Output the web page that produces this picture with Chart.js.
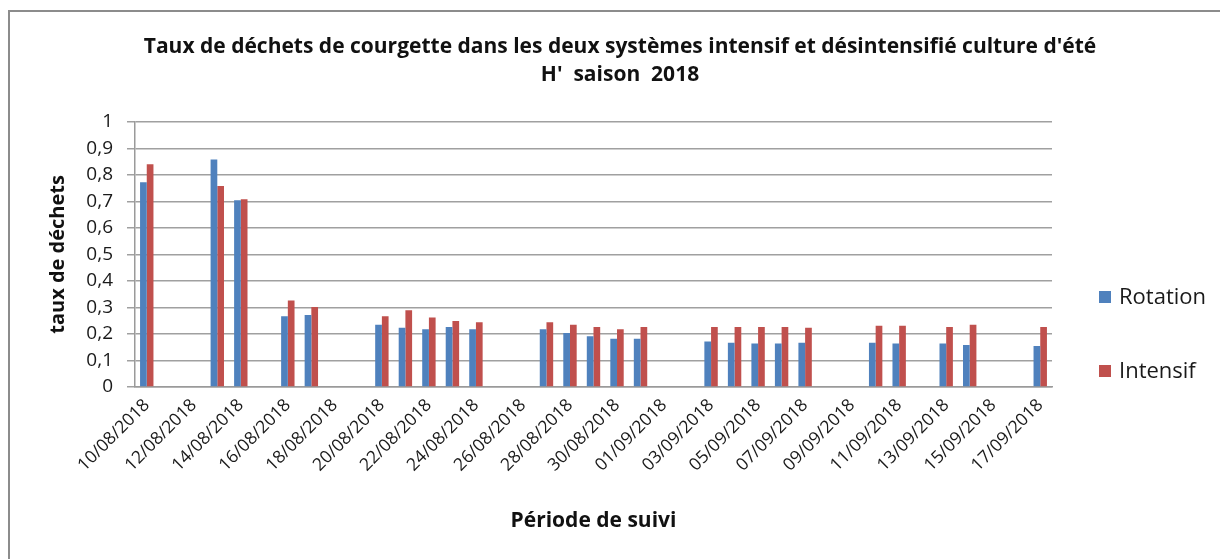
<!DOCTYPE html>
<html>
<head>
<meta charset="utf-8">
<script src="https://cdn.jsdelivr.net/npm/chart.js@4.4.0/dist/chart.umd.min.js"></script>
<style>
  html, body { margin: 0; padding: 0; background: #fff; overflow: hidden; }
  #wrap { position: relative; width: 1220px; height: 559px; }
  #frame { position: absolute; left: 8px; top: 10px; width: 1300px; height: 600px;
           border-left: 2px solid #8c8c8c; border-top: 2px solid #8c8c8c; }
  canvas { position: absolute; left: 0; top: 0; }
</style>
</head>
<body>
<div id="wrap">
  <div id="frame"></div>
  <canvas id="wasteChart" width="1220" height="559"></canvas>
</div>
<script>
// every day of the follow-up period (date axis)
const days = [
  '10/08/2018', '11/08/2018', '12/08/2018', '13/08/2018', '14/08/2018', '15/08/2018',
  '16/08/2018', '17/08/2018', '18/08/2018', '19/08/2018', '20/08/2018', '21/08/2018',
  '22/08/2018', '23/08/2018', '24/08/2018', '25/08/2018', '26/08/2018', '27/08/2018',
  '28/08/2018', '29/08/2018', '30/08/2018', '31/08/2018', '01/09/2018', '02/09/2018',
  '03/09/2018', '04/09/2018', '05/09/2018', '06/09/2018', '07/09/2018', '08/09/2018',
  '09/09/2018', '10/09/2018', '11/09/2018', '12/09/2018', '13/09/2018', '14/09/2018',
  '15/09/2018', '16/09/2018', '17/09/2018'
];

// days on which waste was measured
const sampleDays = [
  '10/08/2018', '13/08/2018', '14/08/2018', '16/08/2018', '17/08/2018',
  '20/08/2018', '21/08/2018', '22/08/2018', '23/08/2018', '24/08/2018',
  '27/08/2018', '28/08/2018', '29/08/2018', '30/08/2018', '31/08/2018',
  '03/09/2018', '04/09/2018', '05/09/2018', '06/09/2018', '07/09/2018',
  '10/09/2018', '11/09/2018', '13/09/2018', '14/09/2018', '17/09/2018'
];

const rotation = [
  0.772, 0.858, 0.704, 0.267, 0.272,
  0.235, 0.223, 0.218, 0.226, 0.218,
  0.218, 0.204, 0.191, 0.182, 0.182,
  0.172, 0.167, 0.164, 0.164, 0.167,
  0.167, 0.164, 0.164, 0.158, 0.155
];

const intensif = [
  0.840, 0.758, 0.708, 0.326, 0.302,
  0.267, 0.289, 0.262, 0.249, 0.244,
  0.244, 0.235, 0.226, 0.218, 0.226,
  0.226, 0.226, 0.226, 0.226, 0.223,
  0.231, 0.231, 0.226, 0.235, 0.226
];

// put the measured values on the full day axis (null = no measurement)
function onAxis(values) {
  return days.map(d => {
    const i = sampleDays.indexOf(d);
    return i === -1 ? null : values[i];
  });
}

const FONT = '"Open Sans", Lato, sans-serif';

// legend drawn to the right of the plot, like the Excel original
const sideLegend = {
  id: 'sideLegend',
  afterDraw(chart) {
    const { ctx, chartArea } = chart;
    const x = chartArea.right + 47;
    const rows = [297, 371];
    ctx.save();
    ctx.font = '22px ' + FONT;
    ctx.textBaseline = 'middle';
    chart.data.datasets.forEach((ds, i) => {
      ctx.fillStyle = ds.backgroundColor;
      ctx.fillRect(x, rows[i] - 6, 12, 12);
      ctx.fillStyle = '#1a1a1a';
      ctx.fillText(ds.label, x + 20, rows[i] + 1);
    });
    ctx.restore();
  }
};

const ctx = document.getElementById('wasteChart').getContext('2d');
const wasteChart = new Chart(ctx, {
  type: 'bar',
  data: {
    labels: days,
    datasets: [
      {
        label: 'Rotation',
        data: onAxis(rotation),
        backgroundColor: '#4f81bd',
        barPercentage: 1.0,
        categoryPercentage: 0.57
      },
      {
        label: 'Intensif',
        data: onAxis(intensif),
        backgroundColor: '#c0504d',
        barPercentage: 1.0,
        categoryPercentage: 0.57
      }
    ]
  },
  options: {
    responsive: false,
    animation: false,
    layout: { padding: { left: 20, right: 0, top: 0, bottom: 0 } },
    scales: {
      x: {
        grid: { display: false, drawTicks: false },
        border: { display: true, color: '#9a9a9a', width: 1.5 },
        ticks: {
          autoSkip: false,
          maxRotation: 45,
          minRotation: 45,
          padding: 8,
          color: '#1a1a1a',
          font: { family: FONT, size: 17.5 },
          callback: function(value, index) {
            return index % 2 === 0 ? this.getLabelForValue(value) : '';
          }
        },
        title: {
          display: true,
          text: 'Période de suivi',
          color: '#111',
          font: { family: FONT, size: 21, weight: 'bold' },
          padding: { top: 0, bottom: 25 }
        },
        afterFit: s => { s.height = 172; }
      },
      y: {
        min: 0,
        max: 1,
        grid: { color: '#a0a0a0', lineWidth: 1.5, tickLength: 8, drawTicks: true },
        border: { display: true, color: '#9a9a9a', width: 1.5 },
        ticks: {
          stepSize: 0.1,
          padding: 14,
          color: '#1a1a1a',
          font: { family: FONT, size: 19 },
          callback: v => (Math.round(v * 10) / 10).toString().replace('.', ',')
        },
        title: {
          display: true,
          text: 'taux de déchets',
          color: '#111',
          font: { family: FONT, size: 20, weight: 'bold' },
          padding: { top: 26, bottom: 0 }
        },
        afterFit: s => { s.width = 115; }
      },
      // empty right-hand axis that only keeps room for the legend
      legendRoom: {
        type: 'linear',
        position: 'right',
        grid: { display: false },
        border: { display: false },
        ticks: { display: false },
        afterFit: s => { s.width = 168; }
      }
    },
    plugins: {
      legend: { display: false },
      tooltip: { enabled: false },
      title: {
        display: true,
        text: [
          "Taux de déchets de courgette dans les deux systèmes intensif et désintensifié culture d'été",
          "H'  saison  2018"
        ],
        color: '#111',
        font: { family: FONT, size: 21, weight: 'bold', lineHeight: 1.33 },
        padding: { top: 33, bottom: 33 }
      }
    }
  },
  plugins: [sideLegend]
});
</script>
</body>
</html>
